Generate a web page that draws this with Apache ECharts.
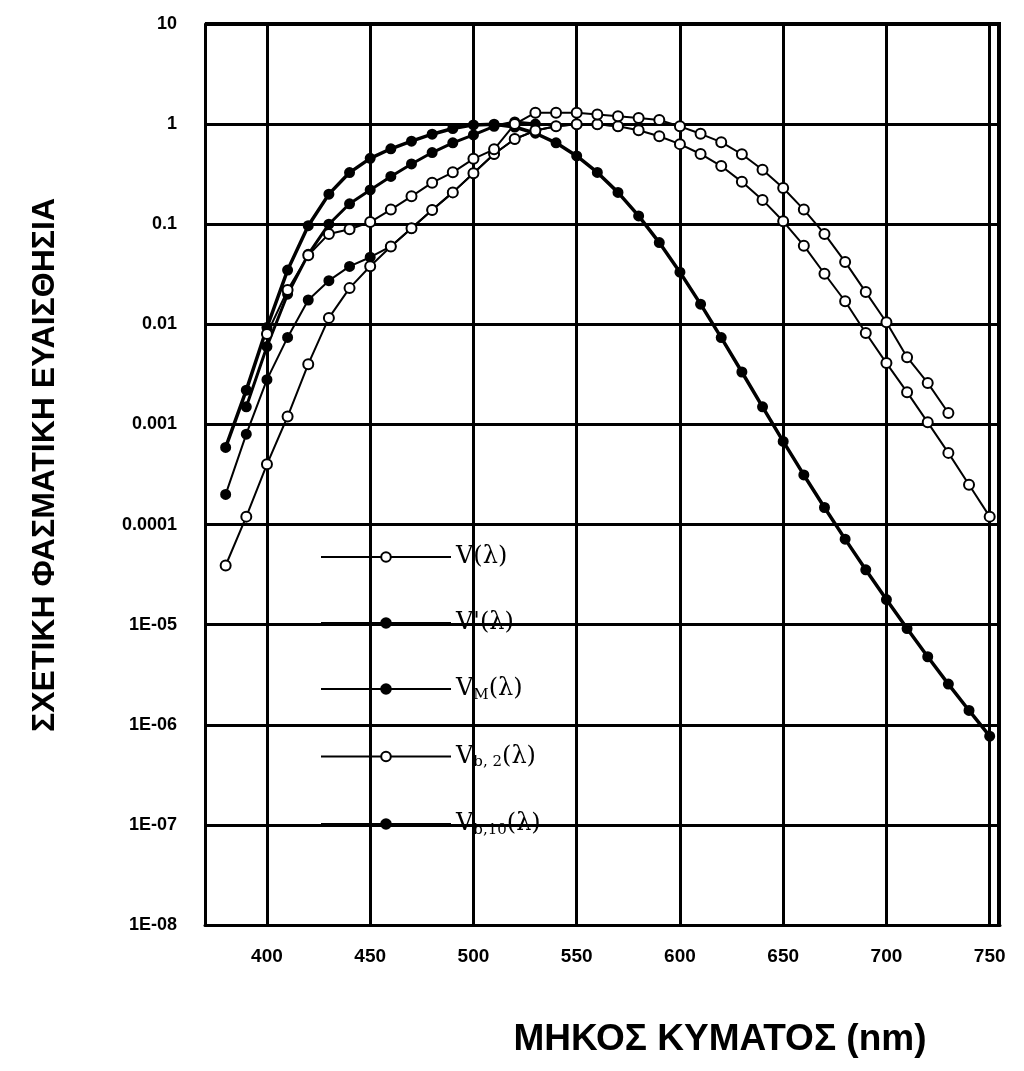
<!doctype html>
<html lang="el">
<head>
<meta charset="UTF-8">
<title>Σχετική φασματική ευαισθησία</title>
<style>
html,body{margin:0;padding:0;background:#fff;}
#main{width:1024px;height:1071px;}
</style>
</head>
<body>
<div id="main"></div>
<script src="https://cdn.jsdelivr.net/npm/echarts@6/dist/echarts.min.js"></script>
<script>
// wavelengths (nm)
var wl = [380,390,400,410,420,430,440,450,460,470,480,490,500,510,520,530,540,550,560,570,
          580,590,600,610,620,630,640,650,660,670,680,690,700,710,720,730,740,750];

// V(λ) photopic
var vPhot = [3.9e-5,1.2e-4,4e-4,1.2e-3,4e-3,0.0116,0.023,0.038,0.06,0.091,0.139,0.208,0.323,0.503,0.71,0.862,0.954,0.995,0.995,0.952,
             0.87,0.757,0.631,0.503,0.381,0.265,0.175,0.107,0.061,0.032,0.017,0.0082,0.0041,0.0021,0.00105,0.00052,0.00025,0.00012];
// V'(λ) scotopic
var vScot = [5.9e-4,2.2e-3,9.3e-3,0.0348,0.0966,0.1998,0.328,0.455,0.567,0.676,0.793,0.904,0.982,0.997,0.935,0.811,0.65,0.481,0.329,0.208,
             0.121,0.0655,0.0332,0.0159,0.00737,0.00334,0.0015,0.000677,0.000313,0.000148,7.15e-5,3.53e-5,1.78e-5,9.14e-6,4.78e-6,2.55e-6,1.39e-6,7.7e-7];
// V_M(λ)
var vM = [2e-4,8e-4,2.8e-3,7.4e-3,0.0175,0.0273,0.0379,0.0468,0.06,0.091,0.139,0.208,0.323,0.503,0.71,0.862,0.954,0.995,0.995,0.952];
var vMwl = wl.slice(0, vM.length);
// V_b,2(λ)
var vb2wl = [400,410,420,430,440,450,460,470,480,490,500,510,520,530,540,550,560,570,580,590,600,610,620,630,640,650,660,670,680,690,700,710,720,730];
var vb2 = [0.008,0.022,0.049,0.08,0.089,0.105,0.14,0.19,0.26,0.33,0.45,0.56,1.0,1.3,1.3,1.3,1.25,1.2,1.15,1.1,0.95,0.8,0.66,0.5,0.35,0.23,0.14,0.08,0.042,0.021,0.0105,0.0047,0.0026,0.0013];
// V_b,10(λ)
var vb10wl = [390,400,410,420,430,440,450,460,470,480,490,500,510,520,530];
var vb10 = [0.0015,0.006,0.02,0.05,0.1,0.16,0.22,0.3,0.4,0.52,0.65,0.78,0.95,1.05,1.0];

var xTicks = [400,450,500,550,600,650,700,750];
var yTickLabels = ['1E-08','1E-07','1E-06','1E-05','0.0001','0.001','0.01','0.1','1','10'];

function pairs(xs, ys) {
    return xs.map(function (x, i) { return [x, ys[i]]; });
}

var chart = echarts.init(document.getElementById('main'));
var font = 'Liberation Sans, Arial, sans-serif';

// open = white fill with black ring, otherwise solid dot
function mk(name, xs, ys, open, w) {
    return {
        name: name, type: 'line', data: pairs(xs, ys),
        symbol: 'circle', symbolSize: open ? 10 : 9,
        color: '#000',
        lineStyle: {color: '#000', width: w},
        itemStyle: {color: open ? '#fff' : '#000', borderColor: '#000', borderWidth: 2},
        z: open ? 4 : 3
    };
}

var option = {
    animation: false,
    backgroundColor: '#fff',
    grid: {left: 205, right: 24, top: 24, bottom: 146},
    legend: {
        orient: 'vertical', left: 315, top: 540, itemGap: 42,
        itemWidth: 130, itemHeight: 12,
        textStyle: {color: '#000', fontSize: 24, fontFamily: 'DejaVu Serif, serif',
            rich: {s: {fontSize: 15, verticalAlign: 'bottom', padding: [12, 0, 0, 0], fontFamily: 'DejaVu Serif, serif'}}},
        formatter: function (n) {
            var m = {
                'V': 'V(λ)', "V'": "V'(λ)", 'VM': 'V{s|M}(λ)',
                'Vb2': 'V{s|b, 2}(λ)', 'Vb10': 'V{s|b,10}(λ)'
            };
            return m[n];
        },
        data: ['V', "V'", 'VM', 'Vb2', 'Vb10']
    },
    xAxis: {
        type: 'value', min: 370, max: 755,
        axisLine: {show: true, lineStyle: {color: '#000', width: 3}},
        axisTick: {show: false, customValues: xTicks},
        axisLabel: {customValues: xTicks, color: '#000', fontSize: 19, fontWeight: 'bold', fontFamily: font, margin: 22},
        splitLine: {show: true, lineStyle: {color: '#000', width: 3}}
    },
    yAxis: {
        type: 'log', min: 1e-8, max: 10, logBase: 10,
        axisLine: {show: true, lineStyle: {color: '#000', width: 3}},
        axisTick: {show: false},
        axisLabel: {color: '#000', fontSize: 18, fontWeight: 'bold', fontFamily: font, margin: 28,
            formatter: function (v) {
                return yTickLabels[Math.round(Math.log10(v)) + 8];
            }},
        splitLine: {show: true, lineStyle: {color: '#000', width: 3}}
    },
    graphic: [
        {type: 'rect', shape: {x: 997, y: 24, width: 4, height: 902}, style: {fill: '#000'}},
        {type: 'rect', shape: {x: 205, y: 22, width: 796, height: 3}, style: {fill: '#000'}},
        {type: 'text', x: 45, y: 465, rotation: Math.PI / 2, style: {
            text: 'ΣΧΕΤΙΚΗ ΦΑΣΜΑΤΙΚΗ ΕΥΑΙΣΘΗΣΙΑ', fill: '#000', font: 'bold 32px ' + font,
            align: 'center', verticalAlign: 'middle'}},
        {type: 'text', x: 720, y: 1040, style: {
            text: 'ΜΗΚΟΣ ΚΥΜΑΤΟΣ (nm)', fill: '#000', font: 'bold 37px ' + font,
            align: 'center', verticalAlign: 'middle'}}
    ],
    series: [
        mk('V', wl, vPhot, true, 2),
        mk("V'", wl, vScot, false, 3.5),
        mk('VM', vMwl, vM, false, 2),
        mk('Vb2', vb2wl, vb2, true, 2),
        mk('Vb10', vb10wl, vb10, false, 3)
    ]
};
chart.setOption(option);
</script>
</body>
</html>
